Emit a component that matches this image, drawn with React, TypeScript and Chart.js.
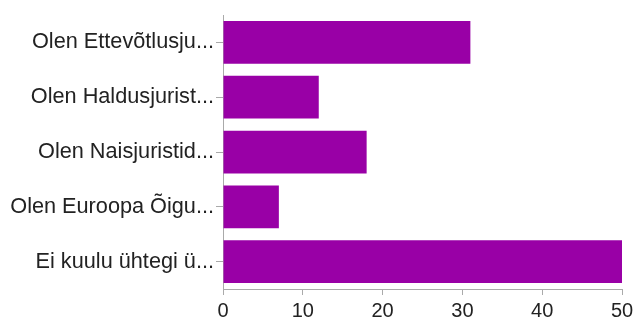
import React, { useEffect, useRef } from "react";
import { Chart, registerables } from "chart.js";

Chart.register(...registerables);

const categories = [
  "Olen Ettevõtlusju...",
  "Olen Haldusjurist...",
  "Olen Naisjuristid...",
  "Olen Euroopa Õigu...",
  "Ei kuulu ühtegi ü...",
];
const values = [31, 12, 18, 7, 50];
const xTicks = [0, 10, 20, 30, 40, 50];

export default function App() {
  const ref = useRef<HTMLCanvasElement | null>(null);
  useEffect(() => {
    if (!ref.current) return;
    const chart = new Chart(ref.current, {
      type: "bar",
      data: {
        labels: categories,
        datasets: [
          {
            data: values,
            backgroundColor: "#9900a6",
            borderWidth: 0,
            categoryPercentage: 1,
            barPercentage: 0.78,
          },
        ],
      },
      options: {
        indexAxis: "y",
        responsive: false,
        animation: false,
        layout: { padding: { top: 13, right: 13, bottom: 0, left: 0 } },
        plugins: { legend: { display: false }, tooltip: { enabled: false } },
        scales: {
          x: {
            min: xTicks[0],
            max: xTicks[xTicks.length - 1],
            afterBuildTicks: (s: any) => {
              s.ticks = xTicks.map((v) => ({ value: v }));
            },
            afterFit: (s: any) => {
              s.height = 29;
              s.paddingRight = 0;
              s.paddingLeft = 0;
            },
            grid: {
              drawOnChartArea: false,
              drawTicks: true,
              tickLength: 6,
              color: "#aaaaaa",
            },
            border: { color: "#aaaaaa", width: 1 },
            ticks: {
              padding: 4,
              color: "#222222",
              font: { family: "'Liberation Sans', Arial, sans-serif", size: 20 },
              maxRotation: 0,
            },
          },
          y: {
            afterFit: (s: any) => {
              s.width = 223;
            },
            grid: {
              offset: false,
              drawOnChartArea: false,
              drawTicks: true,
              tickLength: 7,
              color: "#aaaaaa",
            },
            border: { color: "#aaaaaa", width: 1 },
            ticks: {
              padding: 2,
              color: "#222222",
              font: { family: "'Liberation Sans', Arial, sans-serif", size: 21.7 },
            },
          },
        },
      },
    });
    return () => chart.destroy();
  }, []);
  return (
    <div style={{ position: "fixed", left: 0, top: 0, width: 635, height: 318, background: "#fff" }}>
      <canvas ref={ref} width={635} height={318} style={{ width: 635, height: 318 }} />
    </div>
  );
}
